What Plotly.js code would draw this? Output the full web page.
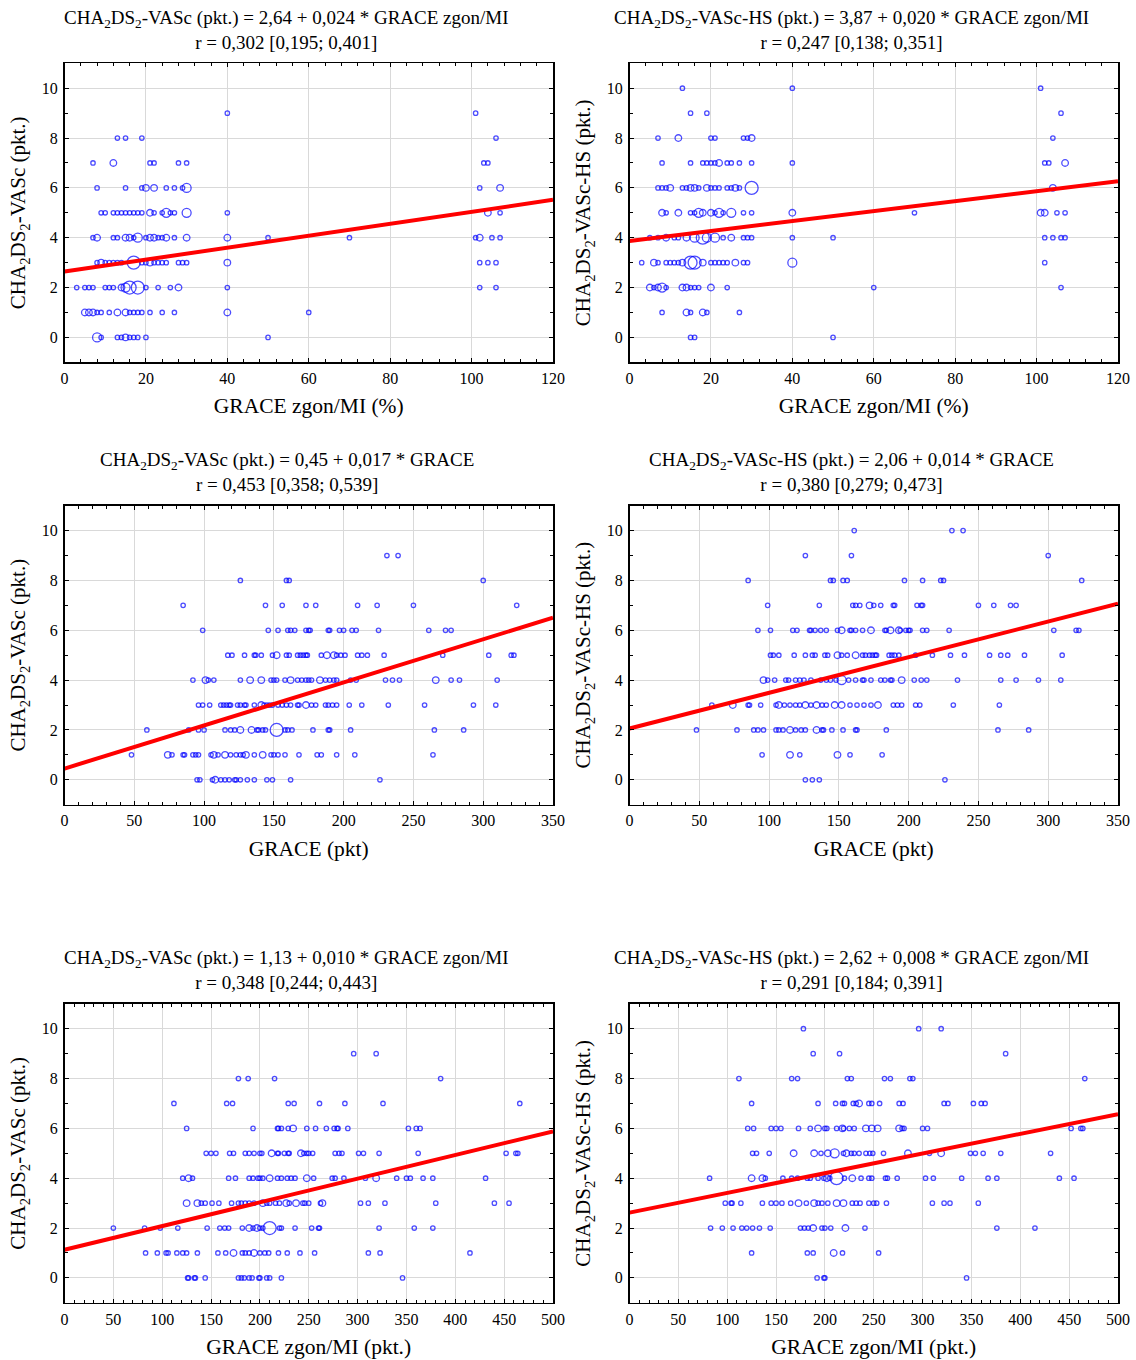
<!DOCTYPE html>
<html>
<head>
<meta charset="utf-8">
<script src="https://cdn.plot.ly/plotly-3.0.1.min.js"></script>
<style>html,body{margin:0;padding:0;background:#fff;}#chart{width:1136px;height:1360px;}</style>
</head>
<body>
<div id="chart"></div>
<script>
// ---------- DATA ----------
// Each row: points at one y value; [x, n] means n overlapping observations (drawn as larger circle)
const p1_levels = [9,8,7,6,5,4,3,2,1,0];
const p1_rows = [
  [40,101],
  [13,15,19,106],
  [7,[12,2],21,22,28,30,103,104],
  [8,15,19,[20,2],[22,2],25,27,29,[30,3],102,[107,2]],
  [9,10,12,13,14,15,16,17,18,19,[21,2],22,24,[25,3],26,27,[30,3],40,[104,2],107],
  [7,[8,2],12,13,[15,2],[16,2],17,[18,3],20,[21,2],[22,2],23,24,[25,2],27,[30,2],[40,2],50,70,101,[102,2],105,107],
  [8,[9,2],10,11,12,13,14,[17,4],19,20,[21,2],22,23,24,25,28,29,30,[40,2],102,104,106],
  [3,5,6,7,10,11,12,[14,2],[15,3],[16,4],[18,4],20,23,26,[28,2],40,102,106],
  [[5,2],[6,2],[7,2],8,9,11,[13,2],[15,2],16,17,18,19,21,24,27,[40,2],60],
  [[8,3],9,13,14,[15,2],16,17,18,20,50]
];
const p2_levels = [10,9,8,7,6,5,4,3,2,1,0];
const p2_rows = [
  [13,40,101],
  [15,19,106],
  [7,[12,2],20,21,28,29,[30,2],104],
  [8,15,18,19,20,21,[22,2],24,25,27,30,40,102,103,[107,2]],
  [7,8,9,[10,2],13,14,[15,2],[16,2],17,[19,2],20,21,22,24,25,[26,2],27,[30,4],[104,2]],
  [[8,2],9,[12,2],15,16,[17,3],[18,2],[20,2],21,[22,3],23,[25,3],28,30,[40,2],70,[101,2],[102,2],105,107],
  [5,7,[9,2],11,12,[14,2],[16,3],[18,4],[19,3],[21,3],23,[25,2],28,29,30,40,50,102,104,106,107],
  [3,[6,2],7,9,10,11,12,[13,2],[15,4],[16,4],[18,2],20,21,22,23,24,[26,2],28,29,[40,3],102],
  [[5,2],6,[7,2],[8,3],9,[13,2],[14,2],15,16,17,[20,2],24,60,106],
  [8,[14,2],15,[18,2],19,27],
  [15,16,50]
];
const p3_levels = [9,8,7,6,5,4,3,2,1,0];
const p3_rows = [
  [231,239],
  [126,159,161,300],
  [85,144,156,173,180,210,224,250,324],
  [99,146,153,160,162,165,173,175,176,189,190,197,200,206,209,225,261,273,277],
  [117,120,129,136,137,141,149,[152,2],159,161,167,169,171,173,174,184,[188,2],[193,2],195,198,201,210,213,217,229,271,304,320,322],
  [92,[101,2],103,107,126,[133,2],[141,2],148,150,152,158,[162,2],167,170,173,175,177,[183,2],187,190,193,195,205,209,230,235,240,[266,2],277,283,310],
  [96,99,104,112,114,116,118,119,124,126,129,130,136,[141,2],143,145,147,149,153,156,159,162,167,168,[173,2],177,180,187,189,192,195,204,213,232,258,293,309],
  [59,89,96,100,115,119,122,[126,2],[134,2],138,139,142,144,[152,4],158,160,163,178,189,190,205,265,286],
  [48,[74,2],77,85,86,92,94,96,105,[107,2],110,[115,2],119,123,126,128,[130,2],136,[142,2],148,150,153,158,168,181,184,195,208,264],
  [95,97,106,[108,2],112,115,118,122,123,126,131,136,145,149,162,226]
];
const p4_levels = [10,9,8,7,6,5,4,3,2,1,0];
const p4_rows = [
  [161,231,239],
  [126,159,300],
  [85,144,146,153,156,197,210,223,225,324],
  [99,136,160,162,165,[172,2],175,180,189,190,206,209,210,250,261,273,277],
  [92,101,117,120,129,130,133,137,141,149,[152,2],158,159,162,167,[173,2],183,184,[187,2],[193,2],194,198,200,201,210,213,229,304,320,322],
  [101,103,107,118,126,131,133,140,142,[149,2],152,156,[162,2],167,169,172,174,176,177,186,188,190,193,205,217,230,240,258,266,271,283,310],
  [[96,2],99,104,112,114,119,122,125,130,137,141,144,148,[152,3],157,162,167,168,173,180,183,187,188,[195,2],204,209,213,235,266,277,293,309],
  [59,[74,2],85,86,94,105,[107,2],111,115,119,122,[126,2],130,[134,2],138,141,[147,2],[152,2],158,163,168,173,[178,2],189,192,195,205,208,232,265],
  [48,77,89,92,96,105,107,110,[115,2],119,123,126,[134,2],138,139,145,153,162,163,184,264,286],
  [95,[115,2],122,[149,2],158,181],
  [126,131,136,226]
];
const p5_levels = [9,8,7,6,5,4,3,2,1,0];
const p5_rows = [
  [296,319],
  [178,188,215,385],
  [112,166,172,229,235,261,287,326,466],
  [125,193,218,219,222,229,[234,2],248,257,268,276,279,280,290,352,360,364],
  [145,150,155,169,173,185,189,194,200,202,[212,2],218,219,225,229,230,[242,2],245,248,250,254,277,281,284,301,306,322,362,452,462,464],
  [121,[127,2],131,168,175,189,193,198,200,203,[210,2],218,222,228,232,236,[248,2],255,274,277,286,308,[319,2],340,350,354,367,377,431],
  [[125,2],[136,2],140,144,151,158,171,178,181,185,189,194,[203,2],207,210,216,220,[227,2],230,[237,2],244,246,250,262,[264,2],303,311,328,380,440,455],
  [50,82,98,116,146,159,164,168,182,[189,2],193,[197,2],200,203,[210,4],220,222,236,253,260,261,322,358,377],
  [83,95,104,106,115,121,125,136,157,165,[173,2],182,185,189,[194,2],200,205,209,219,228,241,256,311,323,415],
  [126,127,133,134,144,178,181,184,189,192,199,200,207,210,222,346]
];
const p6_levels = [10,9,8,7,6,5,4,3,2,1,0];
const p6_rows = [
  [178,296,319],
  [188,215,385],
  [112,166,172,223,227,261,267,287,290,466],
  [125,193,211,218,220,229,232,[235,2],245,248,256,276,280,322,326,352,360,364],
  [121,127,145,150,155,173,185,[193,2],200,202,212,[218,2],219,225,230,[242,2],[248,2],[254,2],[276,2],279,281,300,305,452,462,464],
  [126,130,143,[168,2],[189,2],196,[203,2],[210,3],219,[222,2],227,230,235,242,246,249,260,[285,2],307,[319,2],349,354,362,380,431],
  [82,[125,2],[136,2],139,157,166,172,182,185,193,199,[202,2],205,[212,4],220,[228,2],237,245,248,262,264,274,303,311,340,367,376,440,455],
  [98,104,105,114,136,145,150,156,165,[173,2],181,[189,2],193,197,203,[212,2],[219,2],228,232,236,245,250,253,263,310,322,328,357],
  [83,95,106,115,120,126,133,144,175,179,183,[188,2],197,200,206,[221,2],241,376,415],
  [125,182,188,[209,2],218,255],
  [192,199,200,345]
];

const intercepts = [2.64, 3.87, 0.45, 2.06, 1.13, 2.62];
const slopes     = [0.024, 0.020, 0.0173, 0.0143, 0.0095, 0.0079];
const xMax       = [120, 120, 350, 350, 500, 500];
const xDticks    = [20, 20, 50, 50, 50, 50];
const xMinor     = [4, 4, 10, 10, 10, 10];

const yLabelL = 'CHA<sub>2</sub>DS<sub>2</sub>-VASc (pkt.)';
const yLabelR = 'CHA<sub>2</sub>DS<sub>2</sub>-VASc-HS (pkt.)';
const xLabels = ['GRACE zgon/MI (%)','GRACE zgon/MI (%)','GRACE (pkt)','GRACE (pkt)','GRACE zgon/MI (pkt.)','GRACE zgon/MI (pkt.)'];
const titles = [
  'CHA<sub>2</sub>DS<sub>2</sub>-VASc (pkt.) = 2,64 + 0,024 * GRACE zgon/MI<br>r = 0,302 [0,195; 0,401]',
  'CHA<sub>2</sub>DS<sub>2</sub>-VASc-HS (pkt.) = 3,87 + 0,020 * GRACE zgon/MI<br>r = 0,247 [0,138; 0,351]',
  'CHA<sub>2</sub>DS<sub>2</sub>-VASc (pkt.) = 0,45 + 0,017 * GRACE<br>r = 0,453 [0,358; 0,539]',
  'CHA<sub>2</sub>DS<sub>2</sub>-VASc-HS (pkt.) = 2,06 + 0,014 * GRACE<br>r = 0,380 [0,279; 0,473]',
  'CHA<sub>2</sub>DS<sub>2</sub>-VASc (pkt.) = 1,13 + 0,010 * GRACE zgon/MI<br>r = 0,348 [0,244; 0,443]',
  'CHA<sub>2</sub>DS<sub>2</sub>-VASc-HS (pkt.) = 2,62 + 0,008 * GRACE zgon/MI<br>r = 0,291 [0,184; 0,391]'
];

// ---------- BUILD ----------
const panels = [[p1_levels,p1_rows],[p2_levels,p2_rows],[p3_levels,p3_rows],[p4_levels,p4_rows],[p5_levels,p5_rows],[p6_levels,p6_rows]];
const W = 1136, H = 1360;
const FONT = '"Liberation Serif", "Times New Roman", Times, serif';
const sizeFor = n => ({1:4.4, 2:6.6, 3:9, 4:13})[n] || 4.4;

const colPx = [[64.5, 553], [629.5, 1118]];
const rowTopPx = [63.3, 505.7, 1003.8];
const plotH = 299;
const titleCx = [286.5, 851];

const data = [];
const layout = {
  width: W, height: H,
  margin: {l:0, r:0, t:0, b:0},
  paper_bgcolor: '#fff', plot_bgcolor: '#fff',
  showlegend: false,
  font: {family: FONT, color: '#000', size: 16},
  annotations: []
};

panels.forEach(([levels, rows], i) => {
  const r = Math.floor(i/2), c = i % 2;
  const sfx = i === 0 ? '' : String(i+1);
  const xs = [], ys = [], ss = [];
  rows.forEach((row, k) => {
    row.forEach(v => {
      const x = Array.isArray(v) ? v[0] : v;
      const n = Array.isArray(v) ? v[1] : 1;
      xs.push(x); ys.push(levels[k]); ss.push(sizeFor(n));
    });
  });
  data.push({
    type: 'scatter', mode: 'markers', x: xs, y: ys,
    xaxis: 'x' + sfx, yaxis: 'y' + sfx,
    marker: {symbol: 'circle-open', color: '#0000ff', size: ss, line: {width: 1.3, color: '#0000ff'}},
    hoverinfo: 'skip'
  });
  const lx = [0, xMax[i]];
  data.push({
    type: 'scatter', mode: 'lines', x: lx, y: lx.map(v => intercepts[i] + slopes[i]*v),
    xaxis: 'x' + sfx, yaxis: 'y' + sfx,
    line: {color: '#ff0000', width: 4}, hoverinfo: 'skip'
  });
  const top = rowTopPx[r];
  const yd = [1 - (top + plotH)/H, 1 - top/H];
  const xd = [colPx[c][0]/W, colPx[c][1]/W];
  layout['xaxis' + sfx] = {
    domain: xd, anchor: 'y' + sfx, range: [0, xMax[i]],
    dtick: xDticks[i], tick0: 0,
    showgrid: true, gridcolor: '#d9d9d9', gridwidth: 1, zeroline: false,
    showline: true, linecolor: '#000', linewidth: 1.5, mirror: 'allticks',
    ticks: 'inside', ticklen: 4, tickcolor: '#000', tickwidth: 1,
    minor: {dtick: xMinor[i], ticks: 'inside', ticklen: 3, tickcolor: '#000', showgrid: false},
    tickfont: {family: FONT, size: 16, color: '#000'},
    ticklabelstandoff: 1,
    title: {text: xLabels[i], font: {family: FONT, size: 21.5, color: '#000'}, standoff: 12},
    automargin: false, fixedrange: true
  };
  layout['yaxis' + sfx] = {
    domain: yd, anchor: 'x' + sfx, range: [-1, 11],
    tickvals: [0,2,4,6,8,10],
    showgrid: true, gridcolor: '#d9d9d9', gridwidth: 1, zeroline: false,
    showline: true, linecolor: '#000', linewidth: 1.5, mirror: 'allticks',
    ticks: 'inside', ticklen: 4, tickcolor: '#000', tickwidth: 1,
    minor: {dtick: 1, tick0: 0, ticks: 'inside', ticklen: 3, tickcolor: '#000', showgrid: false},
    tickfont: {family: FONT, size: 16, color: '#000'},
    ticklabelstandoff: 2,
    title: {text: c === 0 ? yLabelL : yLabelR, font: {family: FONT, size: 21, color: '#000'}, standoff: 10},
    automargin: false, fixedrange: true
  };
  layout.annotations.push({
    text: titles[i], xref: 'paper', yref: 'paper',
    x: titleCx[c]/W, y: 1 - (top - 33.5)/H, xanchor: 'center', yanchor: 'middle',
    showarrow: false, align: 'center',
    font: {family: FONT, size: 19, color: '#000'}
  });
});

Plotly.newPlot('chart', data, layout, {staticPlot: true, displayModeBar: false});
</script>
</body>
</html>
